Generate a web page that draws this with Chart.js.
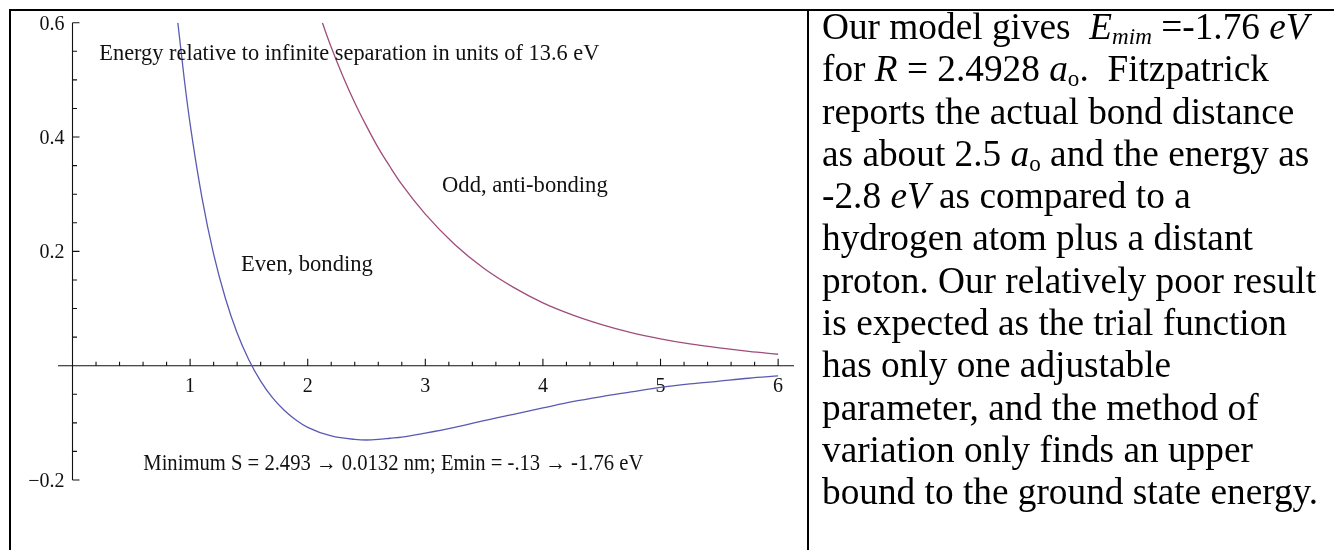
<!DOCTYPE html>
<html lang="en">
<head>
  <meta charset="UTF-8">
  <title>Energy relative to infinite separation</title>
  <style>
    body {
      margin: 0;
      background: white;
      font-family: "Liberation Serif", "Times New Roman", serif;
    }
    #page { position: relative; width: 1334px; height: 550px; overflow: hidden; }
    .rule { position: absolute; background: black; }
    #chartBox { position: absolute; left: 0; top: 0; width: 807px; height: 550px; }
    #note {
      position: absolute;
      left: 822px;
      top: 6px;
      font-size: 37.3px;
      line-height: 42.3px;
      white-space: nowrap;
      color: black;
    }
    #note sub { font-size: 0.62em; line-height: 0; vertical-align: -0.22em; }
  </style>
</head>
<body>
<div id="page">
  <div id="chartBox"><canvas id="energyChart" width="807" height="550"></canvas></div>

  <div class="rule" style="left:9px; top:9px; width:1325px; height:2px;"></div>
  <div class="rule" style="left:9px; top:9px; width:2px; height:541px;"></div>
  <div class="rule" style="left:807px; top:9px; width:2px; height:541px;"></div>

  <div id="note">
    Our model gives&nbsp;&nbsp;<i>E<sub>mim</sub></i> =-1.76 <i>eV</i><br>
    for <i>R</i> = 2.4928 <i>a</i><sub>o</sub>.&nbsp; Fitzpatrick<br>
    reports the actual bond distance<br>
    as about 2.5 <i>a</i><sub>o</sub> and the energy as<br>
    -2.8 <i>eV</i> as compared to a<br>
    hydrogen atom plus a distant<br>
    proton. Our relatively poor result<br>
    is expected as the trial function<br>
    has only one adjustable<br>
    parameter, and the method of<br>
    variation only finds an upper<br>
    bound to the ground state energy.
  </div>
</div>

<script src="https://cdn.jsdelivr.net/npm/chart.js"></script>
<script>
  // separation R (units of a0) and energy (units of 13.6 eV)
  const evenR = [0.895, 0.9, 0.95, 1.0, 1.1, 1.2, 1.3, 1.4, 1.5, 1.6, 1.7, 1.8, 1.9, 2.0, 2.2, 2.4, 2.5, 2.6, 2.7, 2.8,
                 3.0, 3.25, 3.5, 3.75, 4.0, 4.25, 4.5, 4.75, 5.0, 5.25, 5.5, 5.75, 6.0];
  const evenE = [0.600, 0.592, 0.502, 0.423, 0.295, 0.195, 0.118, 0.057, 0.010, -0.027, -0.056, -0.078, -0.095, -0.108, -0.123, -0.129, -0.130, -0.129, -0.127, -0.125,
                 -0.118, -0.108, -0.096, -0.085, -0.074, -0.063, -0.054, -0.046, -0.038, -0.032, -0.027, -0.022, -0.018];

  const oddR = [2.125, 2.15, 2.2, 2.3, 2.4, 2.5, 2.6, 2.7, 2.8, 3.0, 3.25, 3.5, 3.75, 4.0, 4.25, 4.5, 4.75, 5.0, 5.25, 5.5, 5.75, 6.0];
  const oddE = [0.600, 0.585, 0.557, 0.506, 0.460, 0.419, 0.381, 0.348, 0.317, 0.265, 0.212, 0.170, 0.137, 0.110, 0.089, 0.072, 0.058, 0.047, 0.038, 0.031, 0.025, 0.020];

  const xTicks = [1, 2, 3, 4, 5, 6];
  const xTickLabels = ['1', '2', '3', '4', '5', '6'];
  const yTicks = [0.6, 0.4, 0.2, -0.2];
  const yTickLabels = ['0.6', '0.4', '0.2', '\u22120.2'];

  // text placed in data coordinates (left end, baseline)
  const noteText = [
    'Energy relative to infinite separation in units of 13.6 eV',
    'Odd, anti-bonding',
    'Even, bonding',
    'Minimum S = 2.493 \u2192 0.0132 nm; Emin = -.13 \u2192 -1.76 eV'
  ];
  const noteX = [0.228, 3.142, 1.433, 0.602];
  const noteY = [0.535, 0.304, 0.166, -0.182];
  const noteMaxW = [500, 170, 136, 500];

  const toPoints = (xs, ys) => xs.map((x, i) => ({ x: x, y: ys[i] }));

  const mathAxes = {
    id: 'mathAxes',
    beforeDatasetsDraw(chart) {
      const ctx = chart.ctx, xs = chart.scales.x, ys = chart.scales.y, area = chart.chartArea;
      const x0 = xs.getPixelForValue(0), y0 = ys.getPixelForValue(0);
      ctx.save();
      ctx.strokeStyle = '#111';
      ctx.lineWidth = 1.1;
      ctx.beginPath();
      ctx.moveTo(area.left, y0); ctx.lineTo(area.right, y0);
      ctx.moveTo(x0, area.top); ctx.lineTo(x0, area.bottom);
      // x ticks, pointing up
      for (let k = 1; k <= 30; k++) {
        const px = xs.getPixelForValue(k * 0.2);
        const major = k % 5 === 0;
        ctx.moveTo(px, y0); ctx.lineTo(px, y0 - (major ? 7 : 4));
      }
      // y ticks, pointing right
      for (let k = -4; k <= 12; k++) {
        if (k === 0) continue;
        const py = ys.getPixelForValue(k * 0.05);
        const major = k % 4 === 0;
        ctx.moveTo(x0, py); ctx.lineTo(x0 + (major ? 7 : 4.5), py);
      }
      ctx.stroke();

      ctx.fillStyle = '#111';
      ctx.font = '20px "Liberation Serif", serif';
      ctx.textBaseline = 'alphabetic';
      ctx.textAlign = 'center';
      xTicks.forEach((v, i) => ctx.fillText(xTickLabels[i], xs.getPixelForValue(v), y0 + 26));
      ctx.textAlign = 'right';
      yTicks.forEach((v, i) => ctx.fillText(yTickLabels[i], x0 - 8, ys.getPixelForValue(v) + 7));
      ctx.restore();
    },
    afterDatasetsDraw(chart) {
      const ctx = chart.ctx, xs = chart.scales.x, ys = chart.scales.y;
      ctx.save();
      ctx.fillStyle = '#111';
      ctx.font = '22.6px "Liberation Serif", serif';
      ctx.textAlign = 'left';
      ctx.textBaseline = 'alphabetic';
      noteText.forEach((t, i) => ctx.fillText(t, xs.getPixelForValue(noteX[i]), ys.getPixelForValue(noteY[i]), noteMaxW[i]));
      ctx.restore();
    }
  };

  new Chart(document.getElementById('energyChart'), {
    type: 'scatter',
    data: {
      datasets: [
        { label: 'Even, bonding', data: toPoints(evenR, evenE), showLine: true, borderColor: '#5a5ab2', borderWidth: 1.3, pointRadius: 0, cubicInterpolationMode: 'monotone' },
        { label: 'Odd, anti-bonding', data: toPoints(oddR, oddE), showLine: true, borderColor: '#a04c7c', borderWidth: 1.3, pointRadius: 0, cubicInterpolationMode: 'monotone' }
      ]
    },
    options: {
      responsive: false,
      animation: false,
      layout: { padding: { left: 58, right: 13, top: 22.7, bottom: 70 } },
      plugins: { legend: { display: false }, tooltip: { enabled: false } },
      scales: {
        x: { type: 'linear', min: -0.1233, max: 6.135, display: false },
        y: { type: 'linear', min: -0.2, max: 0.6, display: false }
      }
    },
    plugins: [mathAxes]
  });
</script>
</body>
</html>
